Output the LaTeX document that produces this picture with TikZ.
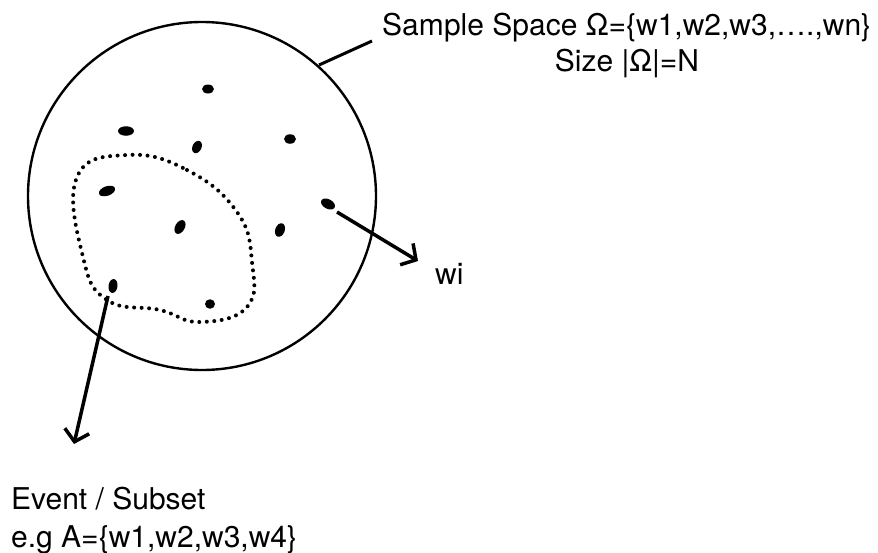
\documentclass[tikz,border=0pt]{standalone}
\usepackage{fontspec}
\setmainfont{TeX Gyre Heros}
\usetikzlibrary{arrows.meta,shapes.geometric}
\begin{document}
\begin{tikzpicture}[x=1pt,y=-1pt,
  pt/.style={ellipse,fill=black,inner sep=0pt,minimum width=#1},
  pt/.default=9pt,
  lbl/.style={inner sep=0pt,font=\fontsize{30}{38}\selectfont},
  arr/.style={line width=3.5pt,-{Straight Barb[length=11pt,width=25pt,line width=3.5pt]}}]
\useasboundingbox (0,0) rectangle (878,552);
\node[circle,draw,line width=2.4pt,minimum size=348pt,inner sep=0pt] (space) at (202,196) {};
% sample points
\node[pt=12pt,minimum height=9pt] (d1) at (208,89) {};
\node[pt=16pt,minimum height=9.5pt] (d2) at (126,131) {};
\node[pt=13pt,minimum height=9pt,rotate=65] (d3) at (197,147) {};
\node[pt=12pt,minimum height=9.5pt] (d4) at (290,139) {};
\node[pt=17pt,minimum height=9.5pt,rotate=20] (d5) at (107,191) {};
\node[pt=15pt,minimum height=9.5pt,rotate=-28] (d6) at (328,204) {};
\node[pt=15pt,minimum height=9.5pt,rotate=60] (d7) at (180,227) {};
\node[pt=14pt,minimum height=9.5pt,rotate=70] (d8) at (280,230) {};
\node[pt=14pt,minimum height=9pt,rotate=82] (d9) at (113,286) {};
\node[pt=10pt,minimum height=9.5pt] (d10) at (210,304) {};
% event region
\draw[line width=4pt,line cap=round,dash pattern=on 0pt off 7.5pt]
  plot[smooth cycle,tension=0.75] coordinates {(127,155) (187,170) (237,212) (252,262) (247,307) (200,322) (160,310) (107,300) (83,257) (77,177)};
% labels
\node[lbl,anchor=base west] (title) at (382,35)
  {Sample Space Ω=\{w1,w2,w3,….,wn\}};
\node[lbl,anchor=base] (size) at (627,71) {Size |Ω|=N};
\node[lbl,anchor=base west] (wi) at (435,284) {wi};
\node[lbl,anchor=base west] (event) at (11,509) {Event / Subset};
\node[lbl,anchor=base west] (eg) at (11,547) {e.g A=\{w1,w2,w3,w4\}};
% connectors
\coordinate (c1) at (319,65);
\coordinate (c2) at (372,41);
\draw[line width=3pt] (c1) -- (c2);
\coordinate (wstart) at (337,212);
\coordinate (wend) at (418,261);
\draw[arr] (wstart) -- (wend);
\coordinate (estart) at (108,296);
\coordinate (eend) at (74,444);
\draw[arr] (estart) -- (eend);
\end{tikzpicture}
\end{document}
